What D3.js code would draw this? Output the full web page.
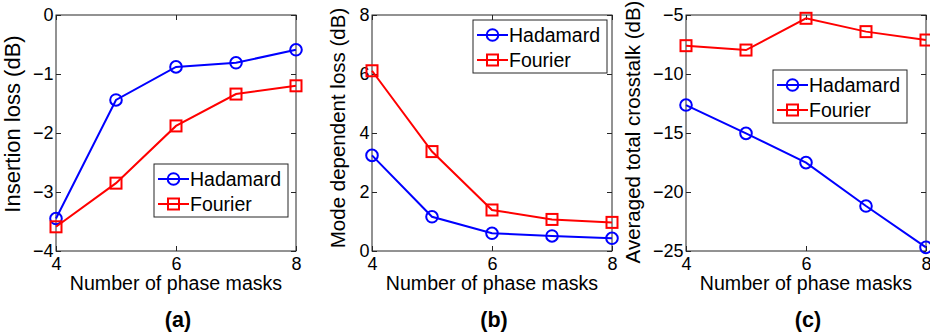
<!DOCTYPE html>
<html>
<head>
<meta charset="utf-8">
<script src="https://cdn.jsdelivr.net/npm/d3@7"></script>
<style>
  html, body { margin: 0; padding: 0; background: #fff; }
  svg { display: block; font-family: "Liberation Sans", Arial, sans-serif; }
</style>
</head>
<body>
<svg id="fig" width="930" height="333"></svg>
<script>
// Number of phase masks (shared x values)
const masks = [4, 5, 6, 7, 8];
const xTicks = [4, 6, 8];

// (a) Insertion loss (dB)
const insertionHadamard = [-3.45, -1.44, -0.88, -0.81, -0.59];
const insertionFourier  = [-3.59, -2.85, -1.88, -1.34, -1.20];
const insertionTicks = [-4, -3, -2, -1, 0];

// (b) Mode dependent loss (dB)
const mdlHadamard = [3.24, 1.16, 0.60, 0.51, 0.43];
const mdlFourier  = [6.11, 3.37, 1.39, 1.07, 0.97];
const mdlTicks = [0, 2, 4, 6, 8];

// (c) Averaged total crosstalk (dB)
const xtalkHadamard = [-12.63, -15.03, -17.51, -21.19, -24.69];
const xtalkFourier  = [-7.60, -7.97, -5.28, -6.41, -7.12];
const xtalkTicks = [-25, -20, -15, -10, -5];

const seriesNames = ["Hadamard", "Fourier"];
const panelLabels = ["(a)", "(b)", "(c)"];
const yTitles = ["Insertion loss (dB)", "Mode dependent loss (dB)", "Averaged total crosstalk (dB)"];

const BLUE = "#0000ff", RED = "#ff0000";

const panels = [
  { left: 56,  yDomain: [-4, 0],   ticks: insertionTicks, had: insertionHadamard, fou: insertionFourier,
    legend: { x: 154, y: 164 }, titleOffset: 44, titleY: 124, titleSize: 22 },
  { left: 372, yDomain: [0, 8],    ticks: mdlTicks,       had: mdlHadamard,       fou: mdlFourier,
    legend: { x: 473, y: 20 },  titleOffset: 34, titleY: 128, titleSize: 20.5 },
  { left: 686, yDomain: [-25, -5], ticks: xtalkTicks,     had: xtalkHadamard,     fou: xtalkFourier,
    legend: { x: 773, y: 70 },  titleOffset: 53, titleY: 132, titleSize: 20.5 }
];

const W = 240, TOP = 15, BOTTOM = 251;
const svg = d3.select("#fig");

function drawMarker(g, type, cx, cy, color) {
  if (type === "circle") {
    g.append("circle").attr("cx", cx).attr("cy", cy).attr("r", 5.8)
      .attr("fill", "none").attr("stroke", color).attr("stroke-width", 2);
  } else {
    g.append("rect").attr("x", cx - 5.5).attr("y", cy - 5.5).attr("width", 11).attr("height", 11)
      .attr("fill", "none").attr("stroke", color).attr("stroke-width", 2);
  }
}

panels.forEach((p, i) => {
  const x = d3.scaleLinear().domain([4, 8]).range([p.left, p.left + W]);
  const y = d3.scaleLinear().domain(p.yDomain).range([BOTTOM, TOP]);
  const g = svg.append("g");

  // frame
  g.append("rect").attr("x", p.left).attr("y", TOP).attr("width", W).attr("height", BOTTOM - TOP)
    .attr("fill", "#fff").attr("stroke", "#262626").attr("stroke-width", 1);

  // axes with inward ticks on all four sides
  const tickLen = 5;
  const axB = d3.axisBottom(x).tickValues(xTicks).tickSizeInner(-tickLen).tickSizeOuter(0).tickPadding(6).tickFormat(d3.format("d"));
  const axT = d3.axisTop(x).tickValues(xTicks).tickSizeInner(-tickLen).tickSizeOuter(0).tickFormat("");
  const axL = d3.axisLeft(y).tickValues(p.ticks).tickSizeInner(-tickLen).tickSizeOuter(0).tickPadding(2.5).tickFormat(d3.format("d"));
  const axR = d3.axisRight(y).tickValues(p.ticks).tickSizeInner(-tickLen).tickSizeOuter(0).tickFormat("");

  [[axB, `translate(0,${BOTTOM})`], [axT, `translate(0,${TOP})`],
   [axL, `translate(${p.left},0)`], [axR, `translate(${p.left + W},0)`]].forEach(([ax, tr]) => {
    const a = g.append("g").attr("transform", tr).call(ax);
    a.select(".domain").remove();
    a.selectAll(".tick line").attr("stroke", "#262626");
    a.selectAll(".tick text").attr("fill", "#000").style("font-size", "18px")
      .style("font-family", "'Liberation Sans', Arial, sans-serif");
  });

  // series lines and markers
  const line = d3.line().x((d, k) => x(masks[k])).y(d => y(d));
  [[p.had, BLUE, "circle"], [p.fou, RED, "square"]].forEach(([vals, color, mk]) => {
    g.append("path").datum(vals).attr("d", line).attr("fill", "none")
      .attr("stroke", color).attr("stroke-width", 2);
    vals.forEach((v, k) => drawMarker(g, mk, x(masks[k]), y(v), color));
  });

  // x title
  g.append("text").attr("x", p.left + W / 2).attr("y", 290).attr("text-anchor", "middle")
    .style("font-size", "19.6px").text("Number of phase masks");

  // y title
  g.append("text").attr("transform", `translate(${p.left - p.titleOffset},${p.titleY}) rotate(-90)`)
    .attr("text-anchor", "middle").attr("dy", "0.35em")
    .style("font-size", p.titleSize + "px").text(yTitles[i]);

  // panel label
  g.append("text").attr("x", p.left + W / 2 + 2).attr("y", 327).attr("text-anchor", "middle")
    .style("font-size", "21.5px").style("font-weight", "bold").text(panelLabels[i]);

  // legend
  const lg = g.append("g").attr("transform", `translate(${p.legend.x},${p.legend.y})`);
  lg.append("rect").attr("width", 134).attr("height", 53).attr("fill", "#fff")
    .attr("stroke", "#262626").attr("stroke-width", 1);
  [[BLUE, "circle", 15], [RED, "square", 40]].forEach(([color, mk, yy], k) => {
    lg.append("line").attr("x1", 4).attr("x2", 35).attr("y1", yy).attr("y2", yy)
      .attr("stroke", color).attr("stroke-width", 2);
    drawMarker(lg, mk, 19.5, yy, color);
    lg.append("text").attr("x", 36).attr("y", yy).attr("dy", "0.36em")
      .style("font-size", "19.5px").text(seriesNames[k]);
  });
});
</script>
</body>
</html>
